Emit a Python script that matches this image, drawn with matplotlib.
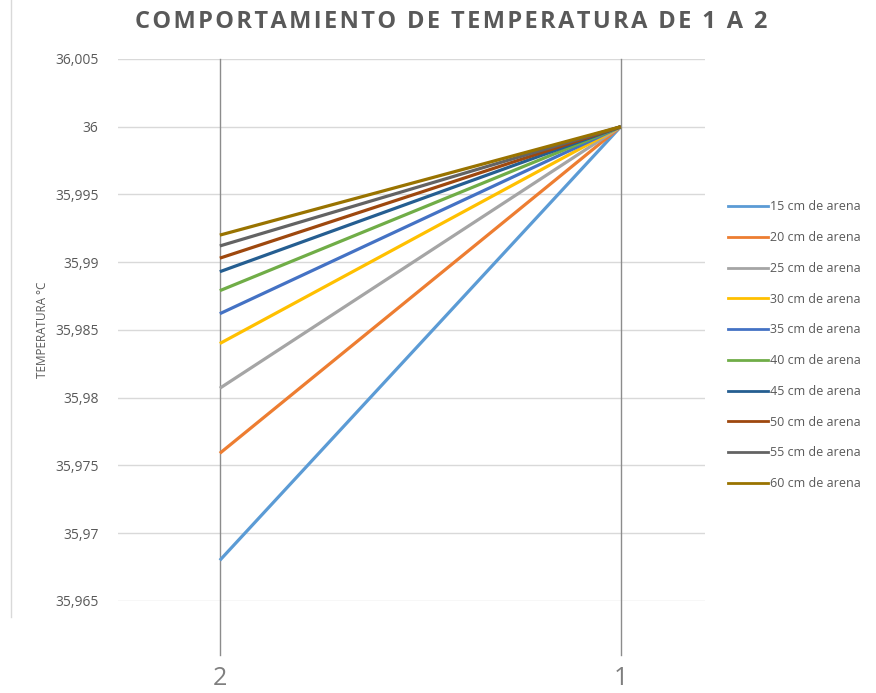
import matplotlib.pyplot as plt
from matplotlib.ticker import FuncFormatter, MultipleLocator
from matplotlib.lines import Line2D

# datos
categorias = ['2', '1']
series = ['15 cm de arena', '20 cm de arena', '25 cm de arena', '30 cm de arena',
          '35 cm de arena', '40 cm de arena', '45 cm de arena', '50 cm de arena',
          '55 cm de arena', '60 cm de arena']
temp_2 = [35.968, 35.9759, 35.9807, 35.9840, 35.9862, 35.9879, 35.9893, 35.9903, 35.9912, 35.9920]
temp_1 = [36.0, 36.0, 36.0, 36.0, 36.0, 36.0, 36.0, 36.0, 36.0, 36.0]
colores = ['#5B9BD5', '#ED7D31', '#A5A5A5', '#FFC000', '#4472C4',
           '#70AD47', '#255E91', '#9E480E', '#636363', '#997300']

plt.rcParams['font.family'] = ['Open Sans', 'DejaVu Sans']
gris = '#595959'

fig = plt.figure(figsize=(8.76, 6.93), dpi=100)
ax = fig.add_axes([0.1347, 0.1328, 0.670, 0.7821])

x = range(len(categorias))
for i in range(len(series)):
    ax.plot(x, [temp_2[i], temp_1[i]], color=colores[i], lw=2.3,
            solid_capstyle='butt', zorder=3)

# lineas verticales de categorias
for xi in x:
    ax.axvline(xi, ymin=-0.1, ymax=1, color='#8C8C8C', lw=1, clip_on=False, zorder=2)

ax.set_xlim(-0.254, 1.21)
ax.set_ylim(35.965, 36.005)
ax.yaxis.set_major_locator(MultipleLocator(0.005))
ax.yaxis.set_major_formatter(FuncFormatter(
    lambda v, p: f"{v:.3f}".rstrip('0').rstrip('.').replace('.', ',')))
ax.grid(axis='y', color='#D9D9D9', lw=1)
ax.set_axisbelow(True)
for s in ax.spines.values():
    s.set_visible(False)

ax.set_xticks(list(x))
ax.set_xticklabels(categorias, fontsize=18, color='#7F7F7F')
ax.tick_params(axis='x', length=0, pad=47)
ax.tick_params(axis='y', length=0, pad=14, labelsize=10, labelcolor=gris)

ax.set_ylabel('TEMPERATURA °C', fontsize=8.5, color=gris, labelpad=4)

titulo = 'COMPORTAMIENTO DE TEMPERATURA DE 1 A 2'
fig.text(0.515, 0.968, '\u200a'.join(titulo), ha='center', va='center',
         fontsize=17, fontweight='bold', color=gris)

handles = [Line2D([0], [0], color=c, lw=2) for c in colores]
fig.legend(handles, series, loc='upper left', bbox_to_anchor=(0.825, 0.718),
           frameon=False, fontsize=9, labelcolor=gris, handlelength=3.2,
           handletextpad=0.2, labelspacing=1.42, borderaxespad=0)

# borde izquierdo
fig.add_artist(Line2D([0.012, 0.012], [0.11, 1.0], color='#D9D9D9', lw=1))

fig.savefig('out.png', dpi=100)
